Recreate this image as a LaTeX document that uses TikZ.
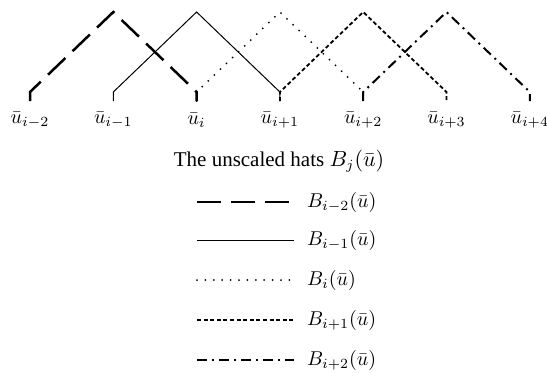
\documentclass[tikz,border=0pt]{standalone}
\usepackage{amsmath,amssymb}
\usepackage{fontspec}
\setmainfont{Liberation Serif}
\usepackage{tikz}
\usetikzlibrary{positioning}
\tikzset{
  hatmm/.style ={draw=black,line width=1.25pt,dash pattern=on 12pt off 5pt},
  hatm/.style  ={draw=black,line width=0.5pt},
  hatz/.style  ={draw=black,line width=1pt,line cap=round,dash pattern=on 0pt off 4.2pt},
  hatp/.style  ={draw=black,line width=0.9pt,dash pattern=on 2pt off 1.3pt},
  hatpp/.style ={draw=black,line width=1pt,dash pattern=on 5pt off 2.5pt on 1pt off 2.5pt},
  knot/.style  ={inner sep=0pt,font=\normalsize},
  lgd/.style   ={inner sep=0pt,anchor=west,font=\normalsize},
}

\begin{document}
\begin{tikzpicture}[x=0.5pt,y=-0.5pt,every node/.style={outer sep=0pt}]
\useasboundingbox (0,0) rectangle (547,372);

% ---------------- knots -------------------------------------------------
\foreach \k/\lab in {0/{i-2},1/{i-1},2/{i},3/{i+1},4/{i+2},5/{i+3},6/{i+4}}{
  \coordinate (k\k) at ({30+83.3*\k},101);
  \coordinate (t\k) at ({30+83.3*\k},92);
  \coordinate (p\k) at ({30+83.3*\k},12);
  \node[knot] (n\k) at ({30+83.3*\k},120) {$\bar{u}_{\lab}$};
}

% ---------------- hats --------------------------------------------------
\foreach \a/\b/\c/\s in {0/1/2/hatmm,1/2/3/hatm,2/3/4/hatz,3/4/5/hatp,4/5/6/hatpp}
  {\draw[\s] (k\a) -- (t\a) -- (p\b) -- (t\c) -- (k\c);}

\node[inner sep=0pt,font=\fontsize{10.5}{12}\selectfont] (ttl) at (279,161)
  {The unscaled hats $B_j(\bar{u})$};

% ---------------- legend ------------------------------------------------
\foreach \i/\y/\s/\lab/\e in {1/202/hatmm/{i-2}/289,2/240/hatm/{i-1}/294,
                              3/280/hatz/{i}/294,4/320/hatp/{i+1}/294,
                              5/360/hatpp/{i+2}/294}{
  \coordinate (la\i) at (197,\y);
  \coordinate (lz\i) at (\e,\y);
  \node[lgd] (lb\i) at (307,\y) {$B_{\lab}(\bar{u})$};
  \draw[\s] (la\i) -- (lz\i);
}
\end{tikzpicture}
\end{document}
